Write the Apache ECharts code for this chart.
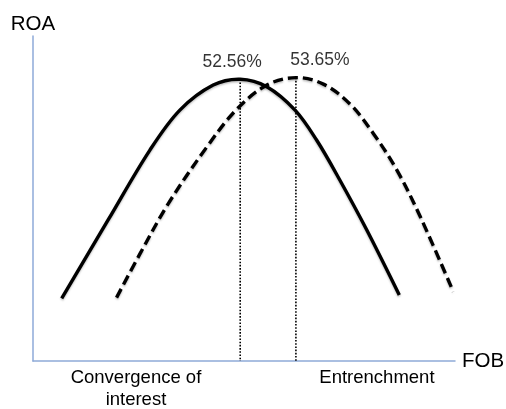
<!DOCTYPE html>
<html>
<head>
<meta charset="utf-8">
<script src="https://cdn.jsdelivr.net/npm/echarts@6/dist/echarts.min.js"></script>
<style>
  html, body { margin: 0; padding: 0; background: #fff; }
  #chart { width: 506px; height: 409px; }
</style>
</head>
<body>
<div id="chart"></div>
<script>
// curve points (FOB, ROA in arbitrary units 0-100)
const solidCurve = [
  [6.8, 19.3], [17.8, 43.4], [27.7, 64.9], [34.8, 77.2], [42.7, 84.9],
  [49.1, 86.7], [55.4, 84.4], [62.1, 77.2], [67.2, 68.0], [72.7, 55.7],
  [79.1, 40.3], [86.8, 20.3]
];
const dashedCurve = [
  [19.8, 19.5], [25.4, 33.1], [32.1, 48.5], [41.0, 65.5], [48.1, 77.2],
  [55.4, 84.9], [62.3, 87.2], [68.8, 85.2], [75.1, 79.1], [80.6, 70.1],
  [86.2, 58.8], [91.7, 44.6], [99.6, 21.3]
];
const peakX = [49.1, 62.3];
const peakY = [86.7, 87.2];
const peakLabels = ['52.56%', '53.65%'];
const zoneValues = [24.4, 81.5];
const zoneLabels = ['Convergence of\ninterest', 'Entrenchment'];

const font = "'Liberation Sans', Arial, Helvetica, sans-serif";
const axisColor = '#8eaad8';

const chart = echarts.init(document.getElementById('chart'));

// one smooth polyline through all points of the series, drawn on the first item
function curveSeries(points, dash) {
  return {
    type: 'custom',
    data: points,
    encode: { x: 0, y: 1 },
    z: 3,
    silent: true,
    renderItem: function (params, api) {
      if (params.dataIndex !== 0) return;
      const pts = points.map(function (p) { return api.coord(p); });
      return {
        type: 'polyline',
        shape: { points: pts, smooth: 0.35 },
        style: {
          fill: null,
          stroke: '#000',
          lineWidth: 3.4,
          lineDash: dash,
          shadowColor: 'rgba(0,0,0,0.25)',
          shadowBlur: 2,
          shadowOffsetY: 1.5
        }
      };
    }
  };
}

function peakLine(i) {
  return {
    type: 'line',
    data: [[peakX[i], peakY[i]], [peakX[i], 0]],
    symbol: 'none',
    lineStyle: { color: '#000', width: 1.6, type: [1.6, 1.6] },
    z: 1,
    silent: true
  };
}

function peakText(i, offset) {
  return {
    type: 'scatter',
    data: [[peakX[i], peakY[i]]],
    symbolSize: 0,
    label: {
      show: true,
      position: 'top',
      offset: offset,
      formatter: peakLabels[i],
      color: '#000',
      fontSize: 17.5,
      fontFamily: font
    },
    silent: true
  };
}

const option = {
  animation: false,
  grid: { left: 33, right: 51, top: 36, bottom: 48, outerBoundsMode: 'none' },
  xAxis: {
    type: 'value',
    min: 0,
    max: 100,
    name: 'FOB',
    nameLocation: 'end',
    nameGap: 7,
    nameTextStyle: {
      color: '#000', fontSize: 20.5, fontFamily: font,
      verticalAlign: 'middle', padding: [12, 0, 0, 0]
    },
    axisLine: { show: true, lineStyle: { color: axisColor, width: 1.5 } },
    axisTick: { show: false },
    splitLine: { show: false },
    axisLabel: {
      customValues: zoneValues,
      formatter: function (v) {
        const i = zoneValues.indexOf(v);
        return i >= 0 ? zoneLabels[i] : '';
      },
      color: '#000',
      fontSize: 18.5,
      lineHeight: 22,
      margin: 6,
      fontFamily: font
    }
  },
  yAxis: {
    type: 'value',
    min: 0,
    max: 100,
    name: 'ROA',
    nameLocation: 'end',
    nameGap: 1,
    nameTextStyle: { color: '#000', fontSize: 20.5, fontFamily: font, align: 'center' },
    axisLine: { show: true, lineStyle: { color: axisColor, width: 1.5 } },
    axisTick: { show: false },
    axisLabel: { show: false },
    splitLine: { show: false }
  },
  series: [
    peakLine(0),
    peakLine(1),
    curveSeries(solidCurve, null),
    curveSeries(dashedCurve, [10, 5]),
    peakText(0, [-8, -3]),
    peakText(1, [24, -3])
  ]
};

chart.setOption(option);
</script>
</body>
</html>
